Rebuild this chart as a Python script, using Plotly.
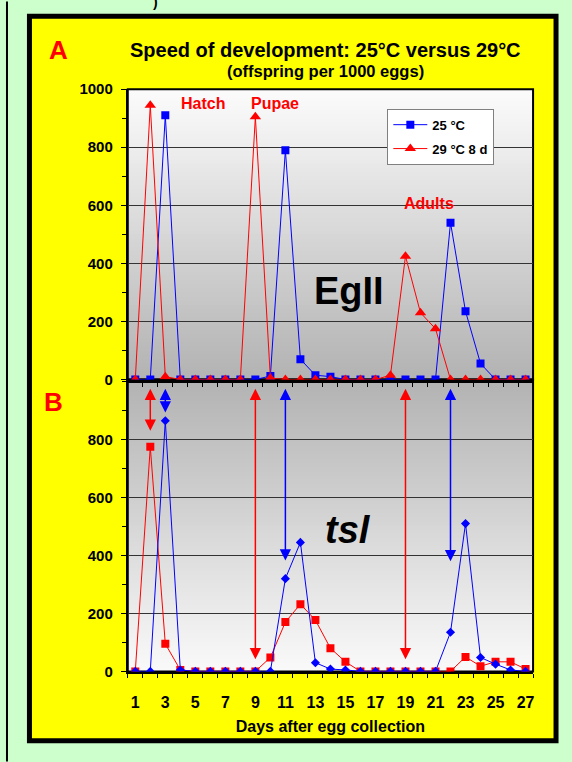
import plotly.graph_objects as go

W, H = 572, 762
FONT = "Liberation Sans, Arial, sans-serif"

# ---------------- data ----------------
days = [1, 2, 3, 4, 5, 6, 7, 8, 9, 10, 11, 12, 13, 14, 15, 16, 17, 18, 19, 20, 21, 22, 23, 24, 25, 26, 27]

# Panel A (EgII)
egii_25 = [0, 0, 910, 0, 0, 0, 0, 0, 0, 12, 790, 70, 15, 10, 0, 0, 0, 0, 0, 0, 0, 540, 235, 55, 0, 0, 0]
egii_29 = [0, 945, 10, 0, 0, 0, 0, 0, 905, 5, 0, 0, 0, 0, 0, 0, 0, 15, 425, 230, 175, 0, 0, 0, 0, 0, 0]

# Panel B (tsl)
tsl_25 = [0, 0, 865, 5, 0, 0, 0, 0, 0, 0, 320, 445, 30, 8, 5, 0, 0, 0, 0, 0, 0, 135, 510, 48, 25, 5, 0]
tsl_29 = [0, 775, 95, 5, 0, 0, 0, 0, 0, 48, 170, 232, 177, 80, 33, 0, 0, 0, 0, 0, 0, 0, 50, 18, 33, 33, 8]

# double-headed arrows in panel B
arrow_days = [2, 3, 9, 11, 19, 22]
arrow_top = [980, 980, 980, 980, 980, 980]
arrow_bottom = [830, 893, 42, 383, 42, 380]
arrow_series = ["29", "25", "29", "25", "29", "25"]

x_tick_vals = [1, 3, 5, 7, 9, 11, 13, 15, 17, 19, 21, 23, 25, 27]
x_tick_text = ["1", "3", "5", "7", "9", "11", "13", "15", "17", "19", "21", "23", "25", "27"]
y_ticks_a = [0, 200, 400, 600, 800, 1000]
y_ticks_b = [0, 200, 400, 600, 800]

BLUE = "#0000FF"
RED = "#FF0000"
SERIES_COLOR = {"25": BLUE, "29": RED}


def px(x):
    return x / W


def py(y):
    return 1 - y / H


XDOM = [px(128), px(534)]
YDOM_A = [py(379), py(82)]
YDOM_B = [py(677.5), py(379)]

fig = go.Figure()

# top panel traces
fig.add_trace(go.Scatter(x=days, y=egii_25, name="25 °C", mode="lines+markers",
                         line=dict(color=BLUE, width=1),
                         marker=dict(symbol="square", size=8, color=BLUE),
                         xaxis="x", yaxis="y", legendgroup="a"))
fig.add_trace(go.Scatter(x=days, y=egii_29, name="29 °C 8 d", mode="lines+markers",
                         line=dict(color=RED, width=1),
                         marker=dict(symbol="triangle-up", size=10, color=RED),
                         xaxis="x", yaxis="y", legendgroup="b"))

# bottom panel traces
fig.add_trace(go.Scatter(x=days, y=tsl_29, name="29 °C 8 d", mode="lines+markers",
                         line=dict(color=RED, width=1),
                         marker=dict(symbol="square", size=8, color=RED),
                         xaxis="x2", yaxis="y2", showlegend=False))
fig.add_trace(go.Scatter(x=days, y=tsl_25, name="25 °C", mode="lines+markers",
                         line=dict(color=BLUE, width=1),
                         marker=dict(symbol="diamond", size=7, color=BLUE),
                         xaxis="x2", yaxis="y2", showlegend=False))

shapes = []
# page elements
shapes.append(dict(type="line", xref="paper", yref="paper", x0=px(7), x1=px(7), y0=-0.01, y1=1.01,
                   line=dict(color="black", width=2), layer="below"))
shapes.append(dict(type="rect", xref="paper", yref="paper", x0=px(29.5), x1=px(557),
                   y0=py(748.5), y1=py(7.5), fillcolor="#FFFF00",
                   line=dict(color="black", width=5), layer="below"))


def gradient(xref, yref, c_top, c_bottom, n=70):
    out = []
    for i in range(n):
        t = (i + 0.5) / n
        c = [round(a + (b - a) * t) for a, b in zip(c_top, c_bottom)]
        y1 = 1 - i / n
        y0 = max(0.0, 1 - (i + 1) / n - 0.004)
        out.append(dict(type="rect", xref=xref, yref=yref, x0=0, x1=1, y0=y0, y1=y1,
                        fillcolor=f"rgb({c[0]},{c[1]},{c[2]})", line=dict(width=0), layer="below"))
    return out


shapes += gradient("x domain", "y domain", (252, 252, 252), (178, 178, 178))
shapes += gradient("x2 domain", "y2 domain", (178, 178, 178), (250, 250, 250))

for xr, yr in (("x domain", "y domain"), ("x2 domain", "y2 domain")):
    shapes.append(dict(type="rect", xref=xr, yref=yr, x0=0, x1=1, y0=0, y1=1,
                       line=dict(color="black", width=2), layer="below"))

annotations = []


def text(x, y, s, size, color="black", italic=False):
    annotations.append(dict(x=px(x), y=py(y), xref="paper", yref="paper", text=s, showarrow=False,
                            xanchor="center", yanchor="middle",
                            font=dict(family=FONT, size=size, color=color, weight="bold",
                                      style="italic" if italic else "normal")))


text(59, 42, "A", 26, RED)
text(54, 402, "B", 26, RED)
text(326, 42, "Speed of development: 25°C versus 29°C", 20)
text(326, 63, "(offspring per 1000 eggs)", 16.5)
text(203.5, 97, "Hatch", 16, RED)
text(275, 97, "Pupae", 16, RED)
text(429.5, 199, "Adults", 16, RED)
text(350, 288, "EgII", 38)
text(349, 533, "tsl", 38, italic=True)
text(156, -7, ")", 14)

for d, yt, yb, s in zip(arrow_days, arrow_top, arrow_bottom, arrow_series):
    c = SERIES_COLOR[s]
    annotations.append(dict(x=d, y=yb, ax=d, ay=yt, xref="x2", yref="y2", axref="x2", ayref="y2",
                            text="", showarrow=True, arrowhead=2, startarrowhead=2,
                            arrowside="end+start", arrowsize=1.5, startarrowsize=1.5,
                            arrowwidth=1.5, arrowcolor=c, standoff=0, startstandoff=0))

yaxis_common = dict(ticks="outside", ticklen=5, tickwidth=1, tickcolor="black",
                    showline=True, linecolor="black", linewidth=2,
                    showgrid=True, gridcolor="#333333", gridwidth=1, zeroline=False,
                    tickfont=dict(family=FONT, size=15, color="black", weight="bold"),
                    ticklabelstandoff=5,
                    minor=dict(dtick=100, tick0=0, ticks="outside", ticklen=4, tickcolor="black",
                               showgrid=False),
                    layer="below traces")

fig.update_layout(
    width=W, height=H, autosize=False,
    margin=dict(l=0, r=0, t=0, b=0, pad=0),
    paper_bgcolor="#CCFFCC", plot_bgcolor="rgba(0,0,0,0)",
    font=dict(family=FONT, color="black"),
    showlegend=True,
    legend=dict(x=px(388), y=py(102), xanchor="left", yanchor="top", bgcolor="white",
                bordercolor="#808080", borderwidth=1, traceorder="grouped", tracegroupgap=4,
                itemwidth=34,
                font=dict(family=FONT, size=13, color="black", weight="bold")),
    xaxis=dict(domain=XDOM, range=[0.5, 27.5], anchor="y", tickmode="linear", tick0=0.5, dtick=1,
               ticks="outside", ticklen=4, tickcolor="black", showticklabels=False,
               showline=True, linecolor="black", linewidth=3, showgrid=False, zeroline=False,
               layer="below traces"),
    yaxis=dict(domain=YDOM_A, range=[0, 1000], anchor="x", tickmode="array",
               tickvals=y_ticks_a, **yaxis_common),
    xaxis2=dict(domain=XDOM, range=[0.5, 27.5], anchor="y2", tickmode="array",
                tickvals=x_tick_vals, ticktext=x_tick_text, ticks="",
                showline=True, linecolor="black", linewidth=3, showgrid=False, zeroline=False,
                tickfont=dict(family=FONT, size=16, color="black", weight="bold"),
                ticklabelstandoff=14,
                minor=dict(tickmode="linear", tick0=0.5, dtick=1, ticks="outside", ticklen=4,
                           tickcolor="black", showgrid=False),
                title=dict(text="Days after egg collection", standoff=12,
                           font=dict(family=FONT, size=16, color="black", weight="bold")),
                layer="below traces"),
    yaxis2=dict(domain=YDOM_B, range=[0, 1007], anchor="x2", tickmode="array",
                tickvals=y_ticks_b, **yaxis_common),
    shapes=shapes,
    annotations=annotations,
)

POST = ("document.documentElement.style.margin='0';document.documentElement.style.padding='0';"
        "document.documentElement.style.overflow='hidden';"
        "document.body.style.margin='0';document.body.style.padding='0';document.body.style.overflow='hidden';"
        "var d=document.getElementById('{plot_id}');d.style.position='absolute';d.style.left='0px';d.style.top='0px';")

fig.write_html("out.html", config={"displayModeBar": False}, post_script=POST)
